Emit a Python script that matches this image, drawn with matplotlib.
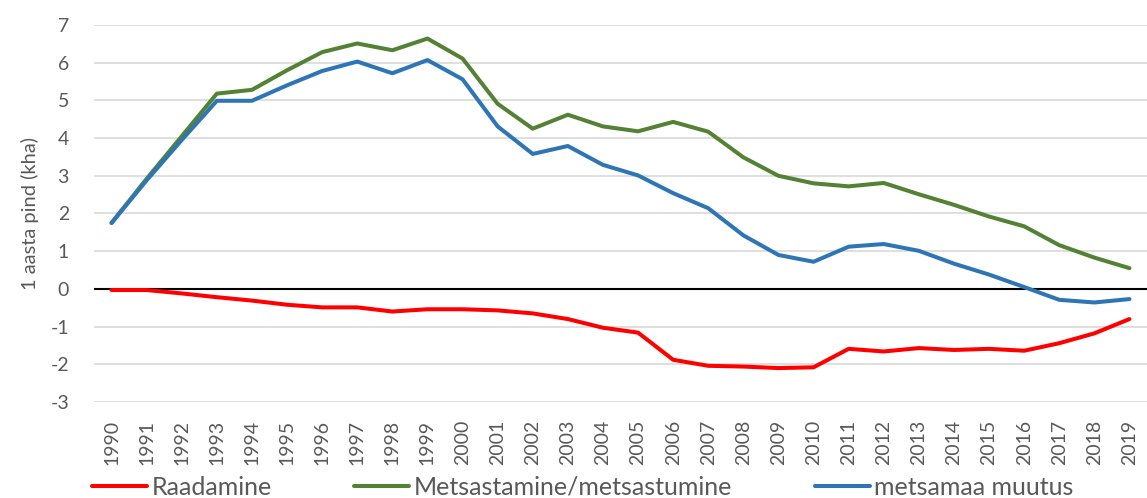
import numpy as np
import matplotlib
matplotlib.use("Agg")
import matplotlib.pyplot as plt

# --- Data ---
years = list(range(1990, 2020))
raadamine = [-0.03, -0.03, -0.12, -0.22, -0.31, -0.42, -0.49, -0.49, -0.60, -0.54,
             -0.54, -0.57, -0.65, -0.80, -1.03, -1.16, -1.88, -2.04, -2.06, -2.10,
             -2.08, -1.59, -1.66, -1.57, -1.62, -1.59, -1.64, -1.44, -1.18, -0.80]
metsastamine = [1.75, 2.92, 4.05, 5.18, 5.28, 5.80, 6.28, 6.51, 6.33, 6.64,
                6.11, 4.91, 4.25, 4.62, 4.31, 4.18, 4.43, 4.17, 3.49, 3.00,
                2.80, 2.72, 2.81, 2.51, 2.23, 1.92, 1.66, 1.16, 0.83, 0.55]
metsamaa_muutus = [1.75, 2.88, 3.95, 4.99, 4.99, 5.40, 5.78, 6.03, 5.72, 6.07,
                   5.56, 4.31, 3.58, 3.79, 3.29, 3.01, 2.54, 2.14, 1.42, 0.90,
                   0.72, 1.12, 1.19, 1.01, 0.67, 0.38, 0.05, -0.29, -0.36, -0.27]
yticks = list(range(-3, 8))

plt.rcParams['font.family'] = ['Lato', 'DejaVu Sans']
plt.rcParams['axes.unicode_minus'] = False

fig = plt.figure(figsize=(11.47, 4.98), dpi=100)
ax = fig.add_axes([94 / 1147, 96 / 498, 1053 / 1147, 377 / 498])

x = np.arange(len(years))
lw = 2.9
ax.plot(x, raadamine, color='#FF0000', lw=lw, solid_capstyle='round',
        label='Raadamine', zorder=3)
ax.plot(x, metsastamine, color='#548235', lw=lw, solid_capstyle='round',
        label='Metsastamine/metsastumine', zorder=3)
ax.plot(x, metsamaa_muutus, color='#2E75B6', lw=lw, solid_capstyle='round',
        label='metsamaa muutus', zorder=3)

ax.axhline(0, color='black', lw=1.5, zorder=2)

ax.set_xlim(-0.5, len(years) - 0.5)
ax.set_ylim(-3, 7)
ax.set_yticks(yticks)
ax.set_xticks(x)
ax.set_xticklabels([str(y) for y in years], rotation=90)
ax.grid(axis='y', color='#D9D9D9', lw=1.2, zorder=0)
ax.set_axisbelow(True)

for s in ax.spines.values():
    s.set_visible(False)
ax.tick_params(axis='both', length=0, colors='#595959', labelsize=14)
ax.tick_params(axis='x', pad=13)
ax.tick_params(axis='y', pad=18)

ax.set_ylabel('1 aasta pind (kha)', color='#595959', fontsize=14.5, labelpad=8)

fig.legend(loc='center left', bbox_to_anchor=(92 / 1147, 11 / 498), ncol=3,
           frameon=False, fontsize=18, handlelength=2.2, handletextpad=0.18,
           columnspacing=3.3, borderpad=0, borderaxespad=0,
           labelcolor='#595959')

fig.savefig('out.png', dpi=100)
